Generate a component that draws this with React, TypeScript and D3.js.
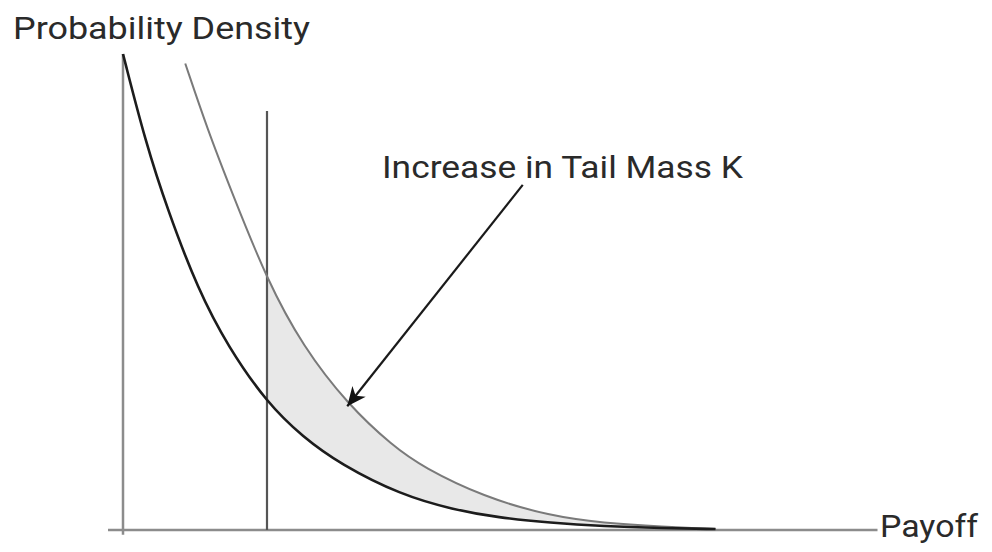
import React from 'react';
import * as d3 from 'd3';

// payoff / density readings taken off the figure (0..100 on both axes)
const baseX = [0, 3, 6, 10, 14, 19.2, 24, 29, 37, 44, 50, 57, 64, 72, 79];
const baseDensity = [100, 81.5, 67, 50.5, 38.5, 26.7, 19.5, 13.8, 7.4, 4.3, 2.6, 1.5, 0.8, 0.4, 0.2];

const tailX = [8.3, 11.3, 14.5, 19.2, 24, 30, 36, 40, 48, 57, 64, 72, 79];
const tailDensity = [98, 84, 71, 52.5, 38.5, 26.3, 17.6, 13.2, 7, 2.9, 1.5, 0.7, 0.2];

const thresholdK = 19.2;
const thresholdTop = 88;

const xAxisExtent = [-2, 100.6];
const yAxisExtent = [-1, 100];

// arrow: from under the label to the gray curve
const arrowFrom = [53.3, 72.5];
const arrowTo = [29.9, 26];

const labels = {
  y: 'Probability Density',
  x: 'Payoff',
  note: 'Increase in Tail Mass K',
};

const W = 992;
const H = 552;

export default function App() {
  const x = d3.scaleLinear().domain([0, 100]).range([123, 873]);
  const y = d3.scaleLinear().domain([0, 100]).range([530, 54]);

  const base = baseX.map((v, i) => [v, baseDensity[i]] as [number, number]);
  const tail = tailX.map((v, i) => [v, tailDensity[i]] as [number, number]);

  const line = d3
    .line<[number, number]>()
    .x((d) => x(d[0]))
    .y((d) => y(d[1]))
    .curve(d3.curveBasis);

  const area = d3
    .area<[number, number]>()
    .x((d) => x(d[0]))
    .y0(y(0))
    .y1((d) => y(d[1]))
    .curve(d3.curveBasis);

  const font = 'Roboto, "DejaVu Sans", sans-serif';

  return (
    <svg
      width={W}
      height={H}
      style={{ position: 'absolute', left: 0, top: 0, background: '#fff' }}
    >
      <defs>
        <clipPath id="rightOfK">
          <rect x={x(thresholdK)} y={0} width={W} height={y(0)} />
        </clipPath>
        <marker
          id="head"
          markerUnits="userSpaceOnUse"
          markerWidth={26}
          markerHeight={22}
          refX={21}
          refY={11}
          orient="auto"
        >
          <path d="M21,11 L2,2.5 L7.5,11 L2,19.5 Z" fill="#111" />
        </marker>
      </defs>

      {/* shaded tail mass between the two curves */}
      <g clipPath="url(#rightOfK)">
        <path d={area(tail) || ''} fill="#e8e8e8" />
        <path d={area(base) || ''} fill="#fff" />
      </g>

      {/* axes */}
      <line
        x1={x(xAxisExtent[0])}
        x2={x(xAxisExtent[1])}
        y1={y(0)}
        y2={y(0)}
        stroke="#8c8c8c"
        strokeWidth={2.5}
      />
      <line
        x1={x(0)}
        x2={x(0)}
        y1={y(yAxisExtent[0])}
        y2={y(yAxisExtent[1])}
        stroke="#8c8c8c"
        strokeWidth={2.5}
      />

      {/* threshold K */}
      <line
        x1={x(thresholdK)}
        x2={x(thresholdK)}
        y1={y(0)}
        y2={y(thresholdTop)}
        stroke="#555"
        strokeWidth={2.2}
      />

      {/* curves */}
      <path d={line(tail) || ''} fill="none" stroke="#7a7a7a" strokeWidth={2} />
      <path d={line(base) || ''} fill="none" stroke="#1c1c1c" strokeWidth={2.6} />

      {/* annotation arrow */}
      <line
        x1={x(arrowFrom[0])}
        y1={y(arrowFrom[1])}
        x2={x(arrowTo[0])}
        y2={y(arrowTo[1])}
        stroke="#1a1a1a"
        strokeWidth={2.2}
        markerEnd="url(#head)"
      />

      {/* texts */}
      <text
        x={13}
        y={39}
        fontFamily={font}
        fontSize={31}
        fill="#2a2a2a"
        textLength={297}
        lengthAdjust="spacingAndGlyphs"
      >
        {labels.y}
      </text>
      <text
        x={382}
        y={178}
        fontFamily={font}
        fontSize={32}
        fill="#2a2a2a"
        textLength={361}
        lengthAdjust="spacingAndGlyphs"
      >
        {labels.note}
      </text>
      <text
        x={880}
        y={537}
        fontFamily={font}
        fontSize={31}
        fill="#2a2a2a"
        textLength={98}
        lengthAdjust="spacingAndGlyphs"
      >
        {labels.x}
      </text>
    </svg>
  );
}
